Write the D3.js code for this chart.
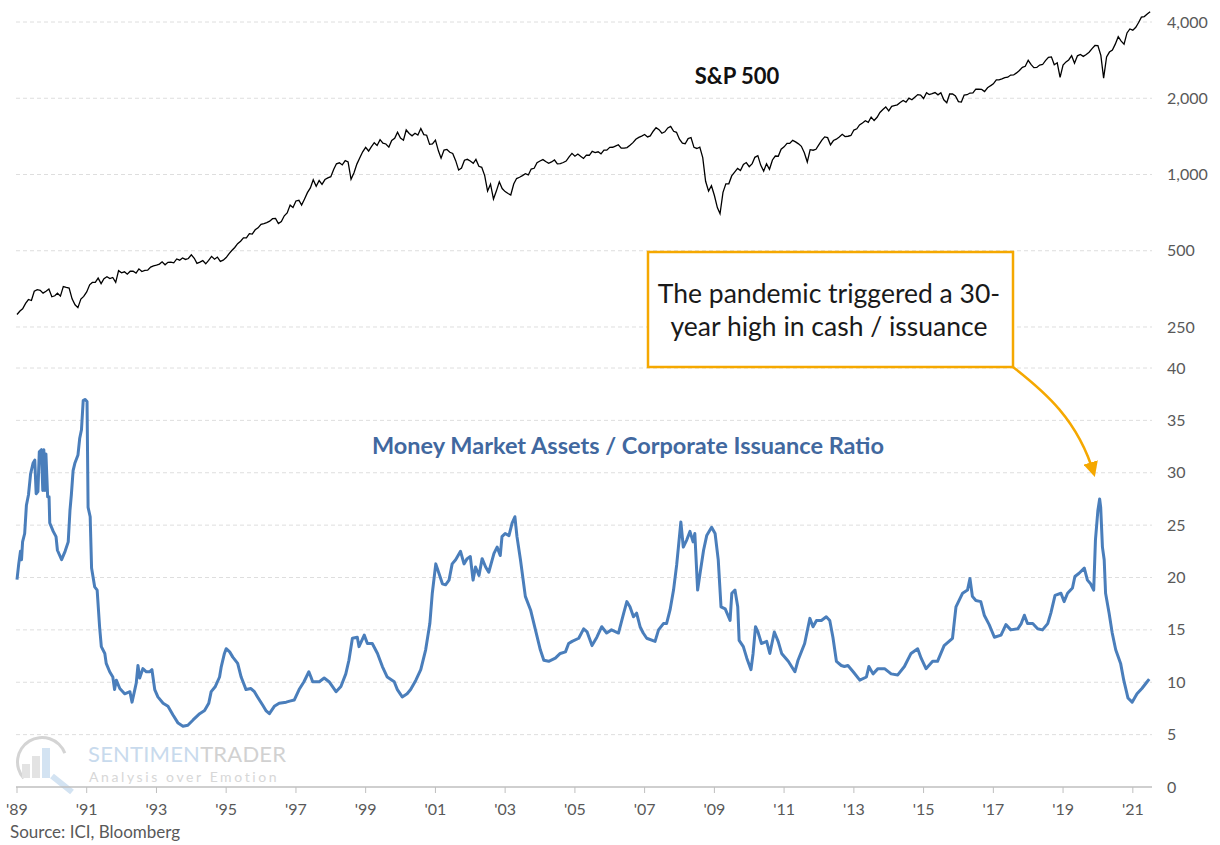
<!DOCTYPE html>
<html>
<head>
<meta charset="utf-8">
<script src="https://cdn.jsdelivr.net/npm/d3@7"></script>
<style>
  body { margin: 0; background: #fff; }
  svg { display: block; font-family: Lato, "Open Sans", sans-serif; }
  .grid line { stroke: #dedede; stroke-dasharray: 4,3; }
  .tick-label { fill: #595959; font-size: 16px; }
</style>
</head>
<body>
<svg id="chart" width="1220" height="845"></svg>
<script>
// S&P 500, monthly levels starting Jan 1989
const spxStart = 1989;
const spxValues = [
  280, 289, 295, 310, 321, 318, 346, 351, 349, 340, 346, 353,
  329, 332, 340, 331, 361, 358, 356, 323, 306, 298, 322, 330,
  344, 367, 375, 375, 390, 371, 388, 395, 388, 392, 375, 417,
  409, 413, 404, 415, 415, 408, 424, 414, 418, 419, 431, 436,
  439, 443, 452, 440, 450, 451, 448, 464, 459, 468, 462, 466,
  482, 467, 446, 451, 457, 444, 458, 475, 463, 472, 454, 459,
  470, 487, 501, 515, 533, 545, 562, 562, 584, 582, 605, 616,
  636, 640, 646, 654, 669, 671, 640, 652, 687, 705, 757, 741,
  786, 791, 757, 801, 848, 885, 954, 899, 947, 915, 955, 970,
  980, 1049, 1102, 1112, 1091, 1134, 1121, 957, 1017, 1099, 1164, 1229,
  1280, 1238, 1286, 1335, 1302, 1373, 1329, 1320, 1283, 1363, 1389, 1469,
  1394, 1366, 1499, 1452, 1421, 1455, 1431, 1518, 1437, 1429, 1315, 1320,
  1366, 1240, 1160, 1249, 1256, 1224, 1211, 1134, 1041, 1060, 1139, 1148,
  1130, 1107, 1147, 1077, 1067, 990, 860, 916, 800, 860, 936, 880,
  856, 841, 830, 917, 964, 975, 990, 1008, 996, 1051, 1058, 1112,
  1131, 1145, 1126, 1107, 1121, 1141, 1102, 1104, 1115, 1130, 1174, 1212,
  1181, 1204, 1181, 1157, 1192, 1191, 1234, 1220, 1229, 1207, 1249, 1248,
  1280, 1281, 1295, 1311, 1270, 1270, 1277, 1304, 1336, 1378, 1401, 1418,
  1438, 1407, 1421, 1482, 1531, 1503, 1455, 1474, 1527, 1549, 1481, 1468,
  1379, 1331, 1323, 1386, 1400, 1280, 1267, 1283, 1166, 940, 860, 903,
  826, 740, 700, 850, 919, 919, 987, 1021, 1057, 1036, 1096, 1115,
  1074, 1104, 1169, 1187, 1089, 1031, 1102, 1049, 1141, 1183, 1181, 1258,
  1286, 1327, 1326, 1364, 1345, 1321, 1292, 1219, 1120, 1253, 1247, 1258,
  1312, 1366, 1408, 1398, 1310, 1362, 1379, 1407, 1441, 1412, 1416, 1426,
  1498, 1515, 1569, 1598, 1631, 1606, 1686, 1633, 1682, 1757, 1806, 1848,
  1783, 1859, 1872, 1884, 1924, 1960, 1931, 2003, 1972, 2018, 2068, 2059,
  1995, 2105, 2068, 2086, 2107, 2063, 2104, 1972, 1920, 2079, 2080, 2044,
  1940, 1932, 2060, 2065, 2097, 2099, 2174, 2171, 2168, 2126, 2199, 2239,
  2279, 2364, 2363, 2384, 2412, 2423, 2470, 2472, 2519, 2575, 2648, 2674,
  2824, 2714, 2641, 2648, 2705, 2718, 2816, 2902, 2914, 2712, 2760, 2420,
  2704, 2784, 2834, 2946, 2752, 2942, 2980, 2926, 2977, 3038, 3141, 3231,
  3226, 2954, 2400, 2912, 3044, 3100, 3271, 3500, 3363, 3270, 3622, 3756,
  3714, 3811, 3973, 4181, 4204, 4298, 4395
];

// Money market assets / corporate issuance ratio (decimal year, value)
const ratioYears = [
  1989.00, 1989.05, 1989.10, 1989.13, 1989.16, 1989.22, 1989.27, 1989.33, 1989.39, 1989.46,
  1989.51, 1989.55, 1989.60, 1989.64, 1989.70, 1989.74, 1989.77, 1989.80, 1989.83, 1989.88,
  1989.92, 1989.94, 1990.04, 1990.12, 1990.16, 1990.28, 1990.38, 1990.47, 1990.52, 1990.56,
  1990.61, 1990.66, 1990.75, 1990.80, 1990.85, 1990.90, 1990.95, 1991.01, 1991.04, 1991.10,
  1991.14, 1991.23, 1991.30, 1991.37, 1991.42, 1991.52, 1991.56, 1991.66, 1991.75, 1991.80,
  1991.85, 1991.95, 1992.09, 1992.24, 1992.30, 1992.38, 1992.42, 1992.47, 1992.52, 1992.61,
  1992.71, 1992.80, 1992.87, 1992.95, 1993.04, 1993.19, 1993.33, 1993.47, 1993.62, 1993.76,
  1993.90, 1994.05, 1994.24, 1994.38, 1994.50, 1994.57, 1994.69, 1994.81, 1994.86, 1994.95,
  1995.00, 1995.10, 1995.19, 1995.33, 1995.43, 1995.57, 1995.71, 1995.81, 1995.90, 1996.05,
  1996.14, 1996.24, 1996.38, 1996.52, 1996.72, 1996.82, 1996.95, 1997.09, 1997.23, 1997.37,
  1997.43, 1997.48, 1997.67, 1997.81, 1997.95, 1998.15, 1998.29, 1998.43, 1998.52, 1998.62,
  1998.76, 1998.81, 1998.96, 1999.05, 1999.19, 1999.34, 1999.48, 1999.62, 1999.82, 1999.91,
  2000.05, 2000.19, 2000.29, 2000.44, 2000.58, 2000.72, 2000.84, 2000.91, 2001.01, 2001.10,
  2001.20, 2001.29, 2001.39, 2001.48, 2001.58, 2001.72, 2001.82, 2001.91, 2002.00, 2002.08,
  2002.15, 2002.25, 2002.34, 2002.44, 2002.53, 2002.68, 2002.77, 2002.86, 2002.91, 2003.00,
  2003.11, 2003.20, 2003.28, 2003.34, 2003.44, 2003.58, 2003.73, 2003.87, 2004.01, 2004.11,
  2004.25, 2004.44, 2004.58, 2004.73, 2004.82, 2004.92, 2005.11, 2005.25, 2005.35, 2005.49,
  2005.63, 2005.77, 2005.91, 2006.05, 2006.25, 2006.40, 2006.49, 2006.58, 2006.68, 2006.77,
  2006.87, 2006.96, 2007.06, 2007.30, 2007.40, 2007.54, 2007.63, 2007.73, 2007.83, 2007.92,
  2007.97, 2008.04, 2008.11, 2008.21, 2008.30, 2008.39, 2008.44, 2008.52, 2008.59, 2008.69,
  2008.78, 2008.92, 2009.02, 2009.11, 2009.19, 2009.31, 2009.45, 2009.50, 2009.59, 2009.67,
  2009.71, 2009.83, 2009.93, 2010.05, 2010.11, 2010.18, 2010.25, 2010.35, 2010.50, 2010.59,
  2010.72, 2010.83, 2010.93, 2011.12, 2011.31, 2011.40, 2011.59, 2011.74, 2011.83, 2011.93,
  2012.07, 2012.21, 2012.31, 2012.40, 2012.50, 2012.64, 2012.73, 2012.83, 2012.98, 2013.17,
  2013.36, 2013.43, 2013.55, 2013.69, 2013.88, 2014.07, 2014.26, 2014.45, 2014.64, 2014.83,
  2014.93, 2015.07, 2015.26, 2015.40, 2015.59, 2015.83, 2015.93, 2016.12, 2016.26, 2016.33,
  2016.40, 2016.50, 2016.64, 2016.74, 2016.88, 2017.03, 2017.22, 2017.36, 2017.50, 2017.70,
  2017.80, 2017.89, 2017.98, 2018.13, 2018.27, 2018.41, 2018.56, 2018.65, 2018.77, 2018.94,
  2019.03, 2019.13, 2019.27, 2019.34, 2019.46, 2019.61, 2019.70, 2019.79, 2019.88, 2019.93,
  2020.00, 2020.05, 2020.08, 2020.13, 2020.18, 2020.22, 2020.32, 2020.41, 2020.51, 2020.65,
  2020.74, 2020.86, 2020.98, 2021.12, 2021.26, 2021.41, 2021.47
];
const ratioValues = [
  19.8, 21.3, 22.5, 21.7, 23.4, 24.2, 26.9, 27.9, 29.9, 30.9,
  31.2, 28.0, 28.2, 32.0, 32.2, 28.3, 32.2, 28.3, 31.8, 27.7,
  27.7, 25.2, 24.4, 23.9, 22.6, 21.7, 22.5, 23.4, 26.4, 27.9,
  30.2, 30.9, 31.7, 33.3, 34.1, 36.9, 37.0, 36.8, 26.7, 25.8,
  20.9, 19.1, 18.8, 15.3, 13.4, 12.75, 11.8, 11.0, 10.5, 9.3,
  10.2, 9.4, 8.9, 9.1, 8.1, 9.3, 9.9, 11.6, 10.4, 11.3,
  11.0, 11.0, 11.2, 9.3, 8.6, 8.0, 7.7, 6.9, 6.1, 5.8,
  5.9, 6.4, 7.0, 7.3, 8.0, 9.1, 9.6, 10.5, 11.5, 12.75,
  13.2, 12.9, 12.4, 11.8, 10.5, 9.3, 9.4, 9.1, 8.6, 7.8,
  7.3, 7.0, 7.7, 8.0, 8.1, 8.2, 8.3, 9.3, 10.05, 11.0,
  10.5, 10.05, 10.05, 10.4, 10.05, 9.1, 9.6, 10.8, 12.1, 14.2,
  14.3, 13.4, 14.5, 13.7, 13.7, 12.75, 11.5, 10.5, 10.05, 9.3,
  8.6, 8.9, 9.3, 10.2, 11.2, 13.1, 15.6, 18.5, 21.3, 20.4,
  19.4, 19.3, 19.75, 21.3, 21.7, 22.5, 21.3, 21.8, 22.0, 19.75,
  21.0, 20.2, 21.8, 21.0, 20.5, 22.3, 22.9, 22.1, 23.9, 24.2,
  24.0, 25.2, 25.8, 23.9, 21.7, 18.2, 16.9, 15.0, 13.1, 12.1,
  12.0, 12.3, 12.75, 12.9, 13.7, 13.9, 14.2, 15.1, 14.8, 13.5,
  14.3, 15.3, 14.7, 15.0, 14.7, 16.6, 17.7, 17.2, 16.25, 16.6,
  15.3, 14.7, 14.2, 13.9, 15.0, 15.6, 15.6, 16.9, 18.8, 21.2,
  22.9, 25.3, 22.9, 23.6, 24.4, 23.4, 24.2, 18.8, 20.4, 22.6,
  24.0, 24.8, 24.2, 21.7, 17.2, 17.0, 15.9, 18.5, 18.8, 17.2,
  14.0, 13.4, 12.3, 11.2, 12.75, 15.3, 14.8, 13.7, 13.9, 12.75,
  14.8, 13.9, 12.75, 12.0, 11.0, 12.1, 13.7, 16.1, 15.3, 15.9,
  15.9, 16.25, 15.9, 14.3, 12.0, 11.6, 11.5, 11.6, 11.0, 10.2,
  10.5, 11.5, 10.8, 11.3, 11.3, 10.8, 10.7, 11.5, 12.75, 13.2,
  12.3, 11.3, 12.0, 12.0, 13.5, 14.2, 17.2, 18.5, 18.8, 19.9,
  18.2, 17.8, 17.7, 16.4, 15.5, 14.3, 14.5, 15.5, 15.0, 15.1,
  15.6, 16.4, 15.6, 15.6, 15.1, 15.0, 15.6, 16.6, 18.3, 18.5,
  17.7, 18.5, 19.0, 20.1, 20.4, 20.9, 19.75, 19.4, 18.8, 23.6,
  26.4, 27.5, 26.7, 22.9, 21.7, 18.5, 16.6, 14.7, 13.1, 11.8,
  10.2, 8.5, 8.1, 8.9, 9.4, 10.05, 10.3
];

const tickYears = [1989, 1991, 1993, 1995, 1997, 1999, 2001, 2003, 2005, 2007, 2009, 2011, 2013, 2015, 2017, 2019, 2021];
const spxTicks = [250, 500, 1000, 2000, 4000];
const ratioTicks = [0, 5, 10, 15, 20, 25, 30, 35, 40];

const spxTitle = "S&P 500";
const ratioTitle = "Money Market Assets / Corporate Issuance Ratio";
const noteLines = ["The pandemic triggered a 30-", "year high in cash / issuance"];
const sourceText = "Source: ICI, Bloomberg";

const yearToDate = y => {
  const yr = Math.floor(y);
  const a = new Date(yr, 0, 1), b = new Date(yr + 1, 0, 1);
  return new Date(+a + (y - yr) * (b - a));
};

const render = () => {
  const svg = d3.select("#chart");
  const left = 17, right = 1152;

  const spx = spxValues.map((v, i) => ({ date: new Date(spxStart, i, 1), value: v }));
  const ratio = ratioYears.map((y, i) => ({ date: yearToDate(y), value: ratioValues[i] }));

  const xScale = d3.scaleTime()
    .domain([new Date(1989, 0, 1), yearToDate(2021.55)])
    .range([left, right]);

  // top panel: log scale
  const ySpx = d3.scaleLog().domain([172.2, 4886]).range([368, 0]);
  // bottom panel
  const yRatio = d3.scaleLinear().domain([0, 40]).range([787, 368]);

  // gridlines
  const grid = svg.append("g").attr("class", "grid");
  grid.selectAll(".gs").data(spxTicks).enter().append("line")
    .attr("x1", left - 1).attr("x2", right)
    .attr("y1", d => ySpx(d)).attr("y2", d => ySpx(d));
  grid.selectAll(".gr").data(ratioTicks.filter(d => d > 0)).enter().append("line")
    .attr("x1", left - 1).attr("x2", right)
    .attr("y1", d => yRatio(d)).attr("y2", d => yRatio(d));

  // right axis labels
  svg.append("g").selectAll("text").data(spxTicks).enter().append("text")
    .attr("class", "tick-label")
    .attr("x", 1167).attr("y", d => ySpx(d))
    .attr("dy", "0.35em")
    .text(d3.format(","));
  svg.append("g").selectAll("text").data(ratioTicks).enter().append("text")
    .attr("class", "tick-label")
    .attr("x", 1167).attr("y", d => yRatio(d))
    .attr("dy", "0.35em")
    .text(d => d);

  // watermark
  const wm = svg.append("g").attr("opacity", 0.9);
  wm.append("path")
    .attr("d", d3.arc()({ innerRadius: 23, outerRadius: 26, startAngle: -2.3, endAngle: 1.2 }))
    .attr("transform", "translate(42,762)")
    .attr("fill", "#d0d0d0");
  [[22, 14], [32, 22], [42, 30]].forEach(([x, h]) => {
    wm.append("rect").attr("x", x).attr("y", 778 - h).attr("width", 8).attr("height", h)
      .attr("fill", x === 42 ? "#cfe0f1" : "#e0e0e0");
  });
  wm.append("line").attr("x1", 52).attr("y1", 776).attr("x2", 72).attr("y2", 792)
    .attr("stroke", "#cfe0f1").attr("stroke-width", 6);
  const wmText = wm.append("text").attr("x", 88).attr("y", 762)
    .attr("font-size", 22).attr("letter-spacing", 0.2);
  wmText.append("tspan").attr("fill", "#c3d7ec").text("SENTIMEN");
  wmText.append("tspan").attr("fill", "#cdcdcd").text("TRADER");
  wm.append("text").attr("x", 89).attr("y", 782)
    .attr("font-size", 14).attr("letter-spacing", 2.6).attr("fill", "#d3d3d3")
    .text("Analysis over Emotion");

  // bottom axis
  const axis = svg.append("g");
  axis.append("line").attr("x1", left - 1).attr("x2", right)
    .attr("y1", 787).attr("y2", 787).attr("stroke", "#bfbfbf").attr("stroke-width", 1.5);
  axis.selectAll(".tk").data(tickYears).enter().append("line")
    .attr("x1", d => xScale(new Date(d, 0, 1))).attr("x2", d => xScale(new Date(d, 0, 1)))
    .attr("y1", 787).attr("y2", 793).attr("stroke", "#bfbfbf");
  axis.selectAll(".tl").data(tickYears).enter().append("text")
    .attr("class", "tick-label")
    .attr("font-size", 16)
    .attr("x", d => xScale(new Date(d, 0, 1))).attr("y", 815)
    .attr("text-anchor", "middle")
    .text(d => "'" + String(d).slice(2));

  // lines
  svg.append("path").datum(spx)
    .attr("fill", "none").attr("stroke", "#000").attr("stroke-width", 1.3)
    .attr("d", d3.line().x(d => xScale(d.date)).y(d => ySpx(d.value)));

  svg.append("path").datum(ratio)
    .attr("fill", "none").attr("stroke", "#4a7ebb").attr("stroke-width", 3)
    .attr("stroke-linejoin", "round")
    .attr("d", d3.line().x(d => xScale(d.date)).y(d => yRatio(d.value)));

  // titles
  svg.append("text").attr("x", 737).attr("y", 84)
    .attr("text-anchor", "middle").attr("font-weight", "bold").attr("font-size", 22)
    .attr("fill", "#111").text(spxTitle);
  svg.append("text").attr("x", 628).attr("y", 454)
    .attr("text-anchor", "middle").attr("font-weight", "bold").attr("font-size", 23.5)
    .attr("fill", "#41689f").text(ratioTitle);

  // annotation
  const orange = "#f5a800";
  svg.append("defs").append("marker")
    .attr("id", "head").attr("viewBox", "0 0 10 10")
    .attr("refX", 8).attr("refY", 5)
    .attr("markerWidth", 6).attr("markerHeight", 6)
    .attr("markerUnits", "strokeWidth")
    .attr("orient", "auto")
    .append("path").attr("d", "M0,0 L10,5 L0,10 z").attr("fill", orange);
  svg.append("path")
    .attr("d", "M1013,367 C1045,392 1078,420 1094,474")
    .attr("fill", "none").attr("stroke", orange).attr("stroke-width", 2.5)
    .attr("marker-end", "url(#head)");
  svg.append("rect").attr("x", 648).attr("y", 252).attr("width", 365).attr("height", 115)
    .attr("fill", "#fff").attr("stroke", orange).attr("stroke-width", 2.5);
  svg.append("g").selectAll("text").data(noteLines).enter().append("text")
    .attr("x", 829).attr("y", (d, i) => 303 + i * 33)
    .attr("text-anchor", "middle").attr("font-size", 26.5).attr("fill", "#1a1a1a")
    .text(d => d);

  svg.append("text").attr("x", 10).attr("y", 838)
    .attr("font-size", 17).attr("fill", "#595959").text(sourceText);
};

render();
</script>
</body>
</html>
